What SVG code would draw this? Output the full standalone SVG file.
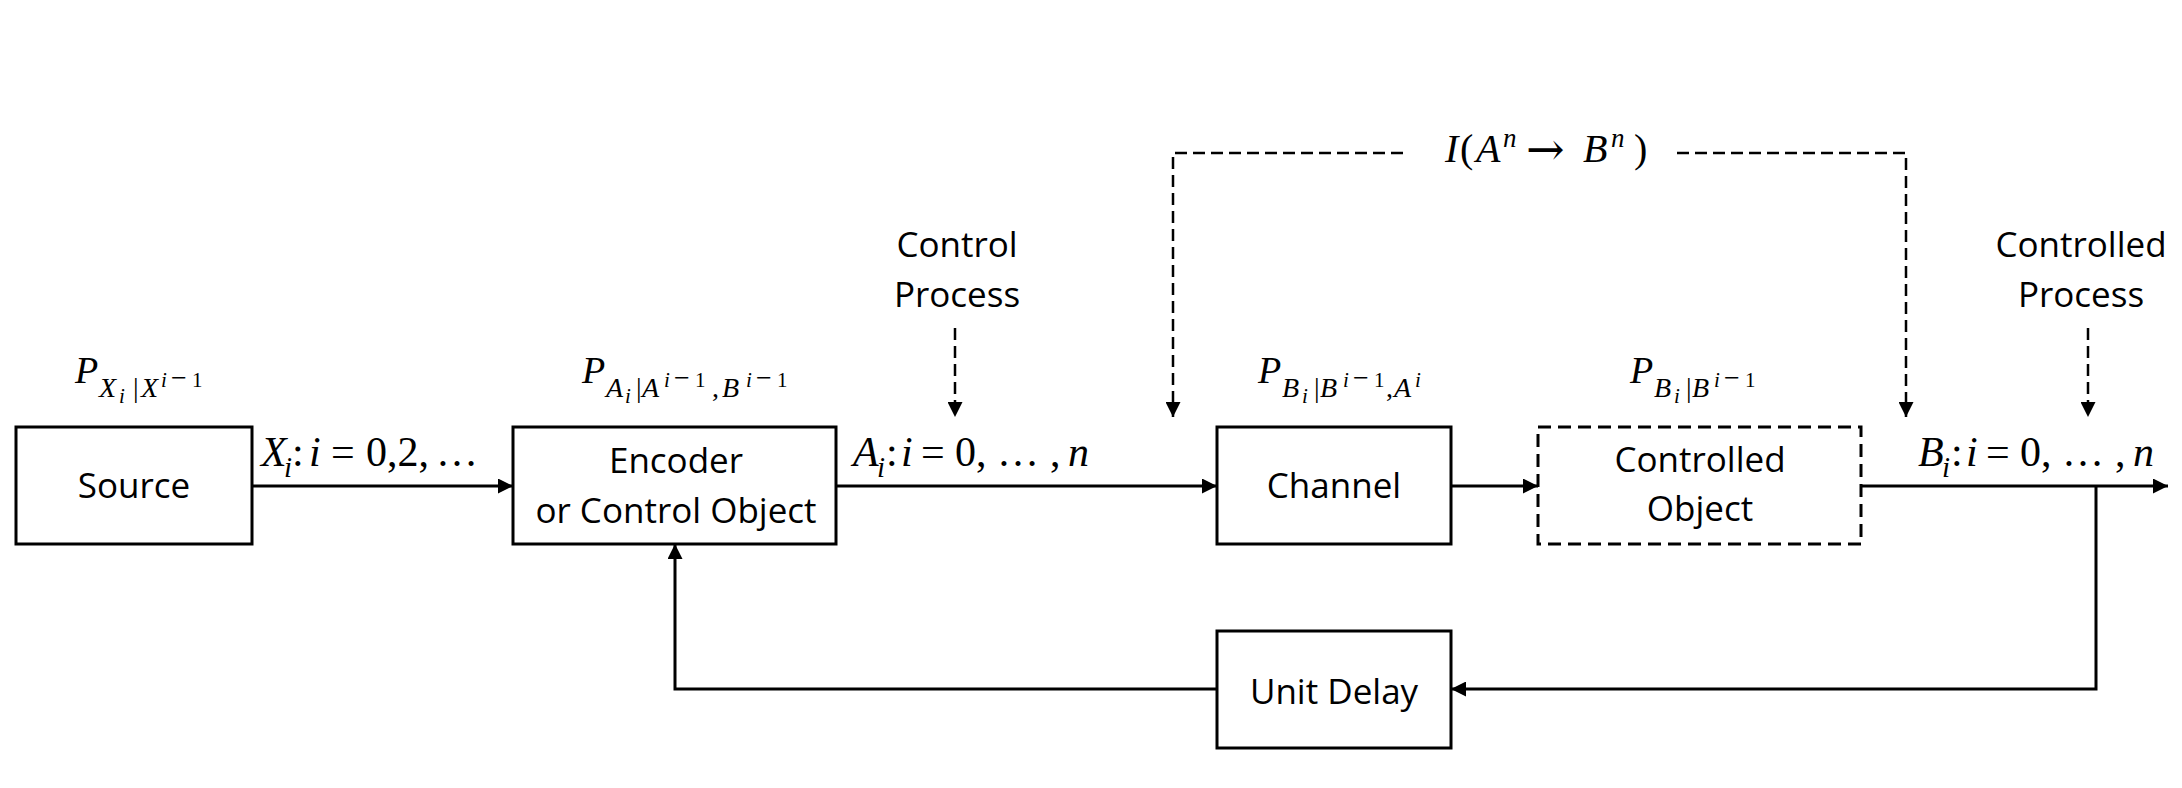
<svg xmlns="http://www.w3.org/2000/svg" width="2182" height="788" viewBox="0 0 2182 788">
<style>
.box{fill:#fff;stroke:#000;stroke-width:3}
.dbox{fill:#fff;stroke:#000;stroke-width:3;stroke-dasharray:13 7}
.t{font-family:"Open Sans","Liberation Sans",sans-serif;font-size:35px;fill:#000;text-anchor:middle}
.m{font-family:"Liberation Serif","DejaVu Serif",serif;fill:#000}
.i{font-style:italic}
.ln{fill:none;stroke:#000;stroke-width:3}
.dl{fill:none;stroke:#000;stroke-width:2.5;stroke-dasharray:12 6}
.L{font-size:42px}
.s{font-size:29px}
.P{font-size:38px}
.b{font-size:28px}
.ss{font-size:21px}
.mn{font-size:28px}
.ar{font-family:"DejaVu Serif",serif}
</style>
<defs>
<marker id="ah" viewBox="0 0 15 15" refX="15" refY="7.5" markerWidth="15" markerHeight="15" markerUnits="userSpaceOnUse" orient="auto">
<path d="M0,0 L15,7.5 L0,15 z" fill="#000"/>
</marker>
</defs>
<rect width="2182" height="788" fill="#fff"/>
<g id="connectors">
<path class="ln" d="M252,486 H513" marker-end="url(#ah)"/>
<path class="ln" d="M836,486 H1217" marker-end="url(#ah)"/>
<path class="ln" d="M1451,486 H1538" marker-end="url(#ah)"/>
<path class="ln" d="M1861,486 H2168" marker-end="url(#ah)"/>
<path class="ln" d="M2096,486 V689 H1451" marker-end="url(#ah)"/>
<path class="ln" d="M1217,689 H675 V544" marker-end="url(#ah)"/>
<path class="dl" d="M955,328 V417" marker-end="url(#ah)"/>
<path class="dl" d="M2088,328 V417" marker-end="url(#ah)"/>
<path class="dl" d="M1403,153 H1173 V417" marker-end="url(#ah)"/>
<path class="dl" d="M1677,153 H1906 V417" marker-end="url(#ah)"/>
<text class="m L"><tspan class="i" x="261" y="466">X</tspan><tspan class="i s" x="284" y="477">i</tspan><tspan x="292" y="466">:</tspan><tspan class="i" x="309" y="466">i</tspan><tspan x="331" y="466">=</tspan><tspan x="366" y="466">0,2,</tspan><tspan x="436" y="466">…</tspan></text>
<text class="m L"><tspan class="i" x="853" y="466">A</tspan><tspan class="i s" x="877" y="477">i</tspan><tspan x="886" y="466">:</tspan><tspan class="i" x="901" y="466">i</tspan><tspan x="921" y="466">=</tspan><tspan x="955" y="466">0,</tspan><tspan x="997" y="466">…</tspan><tspan x="1050" y="466">,</tspan><tspan class="i" x="1068" y="466">n</tspan></text>
<text class="m L"><tspan class="i" x="1918" y="466">B</tspan><tspan class="i s" x="1942" y="477">i</tspan><tspan x="1951" y="466">:</tspan><tspan class="i" x="1966" y="466">i</tspan><tspan x="1986" y="466">=</tspan><tspan x="2020" y="466">0,</tspan><tspan x="2062" y="466">…</tspan><tspan x="2115" y="466">,</tspan><tspan class="i" x="2133" y="466">n</tspan></text>
<text class="m" font-size="40"><tspan class="i" x="1445" y="162">I</tspan><tspan x="1460" y="162">(</tspan><tspan class="i" x="1476" y="162">A</tspan><tspan class="i" font-size="27" x="1503" y="147">n</tspan><tspan class="ar" font-size="46" x="1526" y="165">→</tspan><tspan class="i" x="1583" y="162">B</tspan><tspan class="i" font-size="27" x="1611" y="147">n</tspan><tspan x="1634" y="162">)</tspan></text>
</g>
<g id="source">
<rect class="box" x="16" y="427" width="236" height="117"/>
<text class="t" x="134" y="498">Source</text>
<text class="m"><tspan class="i P" x="75" y="383">P</tspan><tspan class="i b" x="99" y="397">X</tspan><tspan class="i ss" x="119" y="403">i</tspan><tspan class="b" x="133" y="397">|</tspan><tspan class="i b" x="141" y="397">X</tspan><tspan class="i ss" x="161" y="387">i</tspan><tspan class="mn" x="171" y="387">−</tspan><tspan class="ss" x="192" y="387">1</tspan></text>
</g>
<g id="encoder">
<rect class="box" x="513" y="427" width="323" height="117"/>
<text class="t" x="676" y="473">Encoder</text>
<text class="t" x="676" y="523">or Control Object</text>
<text class="m"><tspan class="i P" x="582" y="383">P</tspan><tspan class="i b" x="606" y="397">A</tspan><tspan class="i ss" x="625" y="403">i</tspan><tspan class="b" x="636" y="397">|</tspan><tspan class="i b" x="642" y="397">A</tspan><tspan class="i ss" x="664" y="387">i</tspan><tspan class="mn" x="674" y="387">−</tspan><tspan class="ss" x="695" y="387">1</tspan><tspan class="b" x="712" y="397">,</tspan><tspan class="i b" x="722" y="397">B</tspan><tspan class="i ss" x="746" y="387">i</tspan><tspan class="mn" x="756" y="387">−</tspan><tspan class="ss" x="777" y="387">1</tspan></text>
</g>
<g id="control-process">
<text class="t" x="957" y="257">Control</text>
<text class="t" x="957" y="307">Process</text>
</g>
<g id="channel">
<rect class="box" x="1217" y="427" width="234" height="117"/>
<text class="t" x="1334" y="498">Channel</text>
<text class="m"><tspan class="i P" x="1258" y="383">P</tspan><tspan class="i b" x="1282" y="397">B</tspan><tspan class="i ss" x="1302" y="403">i</tspan><tspan class="b" x="1314" y="397">|</tspan><tspan class="i b" x="1320" y="397">B</tspan><tspan class="i ss" x="1343" y="387">i</tspan><tspan class="mn" x="1353" y="387">−</tspan><tspan class="ss" x="1374" y="387">1</tspan><tspan class="b" x="1386" y="397">,</tspan><tspan class="i b" x="1394" y="397">A</tspan><tspan class="i ss" x="1415" y="387">i</tspan></text>
</g>
<g id="controlled-object">
<rect class="dbox" x="1538" y="427" width="323" height="117"/>
<text class="t" x="1700" y="472">Controlled</text>
<text class="t" x="1700" y="521">Object</text>
<text class="m"><tspan class="i P" x="1630" y="383">P</tspan><tspan class="i b" x="1654" y="397">B</tspan><tspan class="i ss" x="1674" y="403">i</tspan><tspan class="b" x="1686" y="397">|</tspan><tspan class="i b" x="1692" y="397">B</tspan><tspan class="i ss" x="1714" y="387">i</tspan><tspan class="mn" x="1724" y="387">−</tspan><tspan class="ss" x="1745" y="387">1</tspan></text>
</g>
<g id="controlled-process">
<text class="t" x="2081" y="257">Controlled</text>
<text class="t" x="2081" y="307">Process</text>
</g>
<g id="unit-delay">
<rect class="box" x="1217" y="631" width="234" height="117"/>
<text class="t" x="1334" y="704">Unit Delay</text>
</g>
</svg>
